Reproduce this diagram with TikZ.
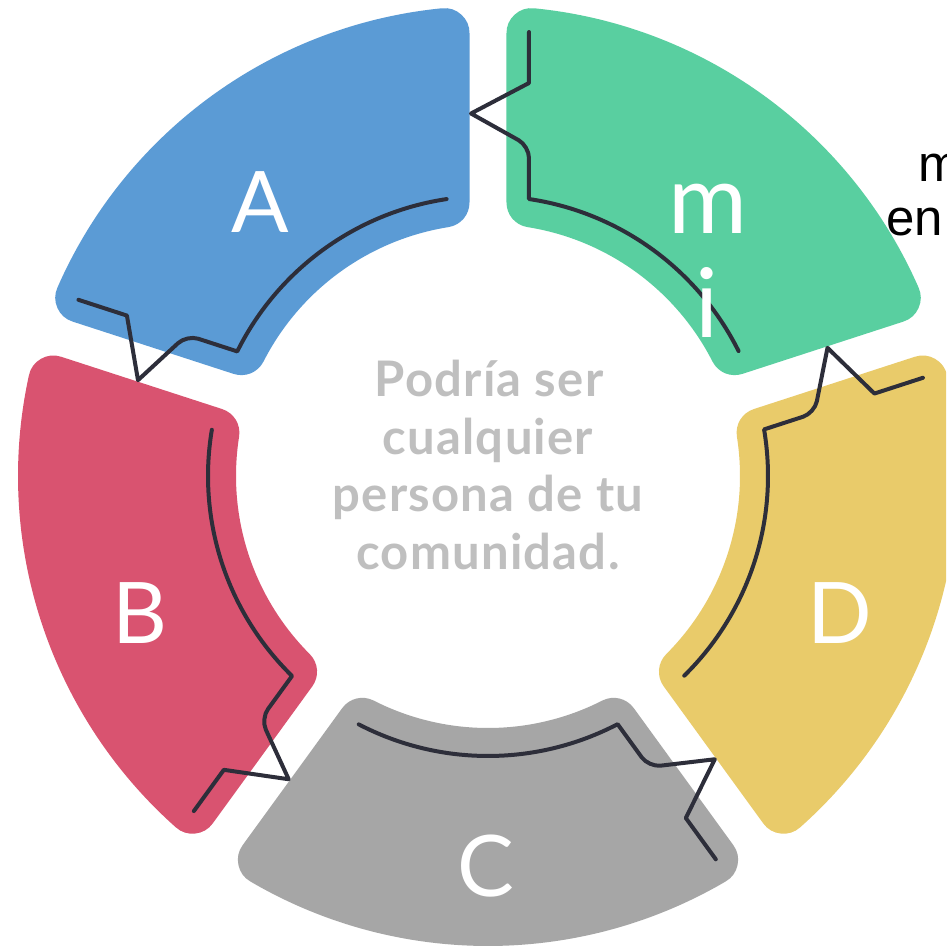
\documentclass[tikz,border=0pt]{standalone}
\usepackage{fontspec}
\newfontfamily\labfont{Lato}
\newfontfamily\ctrfont{Lato}[LetterSpace=2.5]
\newfontfamily\edgefont{Liberation Sans}
\definecolor{segM}{RGB}{89,207,160}
\definecolor{segA}{RGB}{91,155,213}
\definecolor{segB}{RGB}{217,83,112}
\definecolor{segC}{RGB}{166,166,166}
\definecolor{segD}{RGB}{233,203,106}
\definecolor{linec}{RGB}{45,46,58}
\definecolor{ctrc}{RGB}{191,191,191}
\tikzset{
  seg/.style={line width=50pt, line join=round},
  deco/.style={draw=linec, line width=4pt, line cap=round, line join=round},
  lab/.style={text=white, font=\labfont\fontsize{85}{90}\selectfont, inner sep=0pt, anchor=base},
  labm/.style={text=white, font=\labfont\fontsize{96}{100}\selectfont, inner sep=0pt, anchor=base},
  ctr/.style={text=ctrc, font=\ctrfont\bfseries\fontsize{49}{57}\selectfont, inner sep=0pt, anchor=base},
  edgetxt/.style={text=black, font=\edgefont\fontsize{51}{54}\selectfont, inner sep=0pt, anchor=base west},
}
\begin{document}
\begin{tikzpicture}[x=1pt,y=1pt]
\useasboundingbox (-488pt,-473pt) rectangle (458pt,476pt);
\clip (-488pt,-473pt) rectangle (458pt,476pt);
\fill[white] (-488pt,-473pt) rectangle (458pt,476pt);
% ring segments
\foreach \a/\c in {18/segM, 90/segA, 162/segB, 234/segC, 306/segD} {
  \path[seg, fill=\c, draw=\c]
    (\a+5.61:445pt) arc[start angle=\a+5.61, end angle=\a+66.39, radius=445pt]
    -- (\a+62.965:277pt) arc[start angle=\a+62.965, end angle=\a+9.035, radius=277pt]
    -- cycle;
}
% decorative lines
\foreach \r in {0,72,144,216,288} {
  \draw[deco] (\r+26.5:280pt) arc[start angle=\r+26.5, end angle=\r+81.58, radius=280pt]
    [rounded corners=12pt] -- (\r+82.918:332.54pt)
    [sharp corners] -- (\r+92.685:362.9pt) -- (\r+84.044:395.13pt) -- (\r+84.724:445.89pt);
}
% labels
\node[lab] (labA) at (-227.5pt,243pt) {A};
\node[labm] (labm) at (219.5pt,242pt) {m};
\node[labm] (labi) at (219.5pt,138pt) {i};
\node[lab] (labB) at (-348pt,-167pt) {B};
\node[lab] (labC) at (-2pt,-420pt) {C};
\node[lab] (labD) at (352pt,-167pt) {D};
% centre text
\node[ctr] (t1) at (1pt,79pt) {Podría ser};
\node[ctr] (t2) at (0pt,21pt) {cualquier};
\node[ctr] (t3) at (0pt,-36pt) {persona de tu};
\node[ctr] (t4) at (0pt,-94pt) {comunidad.};
% cut-off text at the right edge
\node[edgetxt] (e1) at (430pt,294pt) {m};
\node[edgetxt] (e2) at (398pt,240pt) {en};
\end{tikzpicture}
\end{document}
